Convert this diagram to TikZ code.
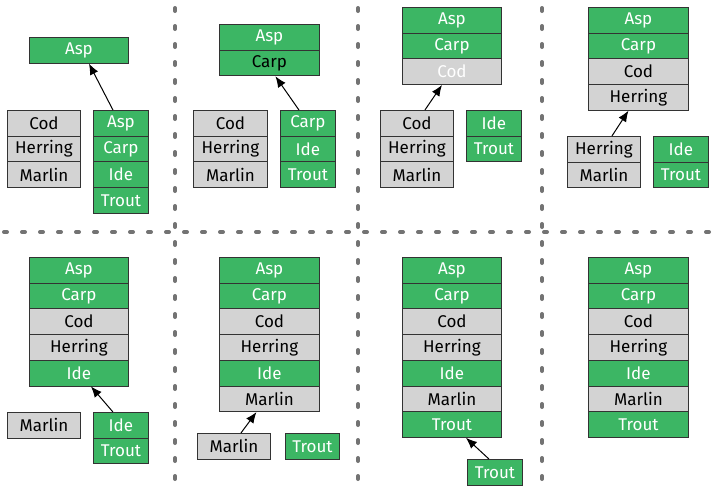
\documentclass[tikz,border=0pt]{standalone}
\usepackage{fontspec}
\setmainfont{Fira Sans}
\usetikzlibrary{arrows.meta}
\definecolor{gr}{RGB}{60,182,100}
\definecolor{gy}{RGB}{211,211,211}
\tikzset{
  box/.style={draw=black!80, line width=0.9pt, minimum width=#1, minimum height=25.7pt, anchor=north west, inner sep=0pt, font=\fontsize{17}{20}\selectfont},
  g/.style={fill=gr, text=white}, gk/.style={fill=gr, text=black},
  r/.style={fill=gy, text=black}, rw/.style={fill=gy, text=white},
  sep/.style={draw=black!55, line width=4pt, line cap=round, dash pattern=on 3pt off 15pt},
  arr/.style={-{Latex[length=11pt,width=9pt]}, line width=1pt}
}
\newcommand\stk[5]{%
  \foreach [count=\i] \s/\t in {#5} {%
    \pgfmathsetmacro\yy{-#3-(\i-1)*25.7}
    \node[box=#4pt,\s] (#1-\i) at (#2pt,\yy pt) {\t};}}
\begin{document}
\begin{tikzpicture}
\useasboundingbox (0,0) rectangle (716pt,-493pt);
\coordinate (v1a) at (175pt,-8pt); \coordinate (v1b) at (175pt,-480pt);
\coordinate (v2a) at (358pt,-8pt); \coordinate (v2b) at (358pt,-480pt);
\coordinate (v3a) at (542pt,-8pt); \coordinate (v3b) at (542pt,-480pt);
\coordinate (ha) at (4pt,-232pt); \coordinate (hb) at (716pt,-232pt);
\draw[sep] (v1a) -- (v1b); \draw[sep] (v2a) -- (v2b); \draw[sep] (v3a) -- (v3b);
\draw[sep] (ha) -- (hb);
% panel 1
\stk{at}{29}{37}{99}{g/Asp}
\stk{al}{7}{110}{73}{r/Cod,r/Herring,r/Marlin}
\stk{ar}{93}{110}{55}{g/Asp,g/Carp,g/Ide,g/Trout}
\draw[arr] ([xshift=-8pt]ar-1.north) -- ([xshift=10pt]at-1.south);
% panel 2
\stk{bt}{219}{24}{100}{g/Asp,gk/Carp}
\stk{bl}{193}{110}{74}{r/Cod,r/Herring,r/Marlin}
\stk{br}{280}{110}{55}{g/Carp,g/Ide,g/Trout}
\draw[arr] ([xshift=-9pt]br-1.north) -- ([xshift=6pt]bt-2.south);
% panel 3
\stk{ct}{402}{7}{99}{g/Asp,g/Carp,rw/Cod}
\stk{cl}{380}{110}{73}{r/Cod,r/Herring,r/Marlin}
\stk{cr}{466}{110}{55}{g/Ide,g/Trout}
\draw[arr] ([xshift=8pt]cl-1.north) -- ([xshift=-10pt]ct-3.south);
% panel 4
\stk{dt}{588}{7}{100}{g/Asp,g/Carp,r/Cod,r/Herring}
\stk{dl}{567}{136}{73}{r/Herring,r/Marlin}
\stk{dr}{653}{136}{55}{g/Ide,g/Trout}
\draw[arr] ([xshift=8pt]dl-1.north) -- ([xshift=-10pt]dt-4.south);
% panel 5
\stk{et}{29}{257}{99}{g/Asp,g/Carp,r/Cod,r/Herring,g/Ide}
\stk{el}{7}{412}{73}{r/Marlin}
\stk{er}{93}{412}{55}{g/Ide,g/Trout}
\draw[arr] ([xshift=-8pt]er-1.north) -- ([xshift=12pt]et-5.south);
% panel 6
\stk{ft}{219}{257}{100}{g/Asp,g/Carp,r/Cod,r/Herring,g/Ide,r/Marlin}
\stk{fl}{197}{433}{73}{r/Marlin}
\stk{fr}{285}{433}{54}{g/Trout}
\draw[arr] ([xshift=7pt]fl-1.north) -- ([xshift=-13pt]ft-6.south);
% panel 7
\stk{gt}{402}{257}{99}{g/Asp,g/Carp,r/Cod,r/Herring,g/Ide,r/Marlin,g/Trout}
\stk{gr}{467}{459}{55}{g/Trout}
\draw[arr] ([xshift=-6pt]gr-1.north) -- ([xshift=14pt]gt-7.south);
% panel 8
\stk{ht}{588}{257}{100}{g/Asp,g/Carp,r/Cod,r/Herring,g/Ide,r/Marlin,g/Trout}
\end{tikzpicture}
\end{document}
